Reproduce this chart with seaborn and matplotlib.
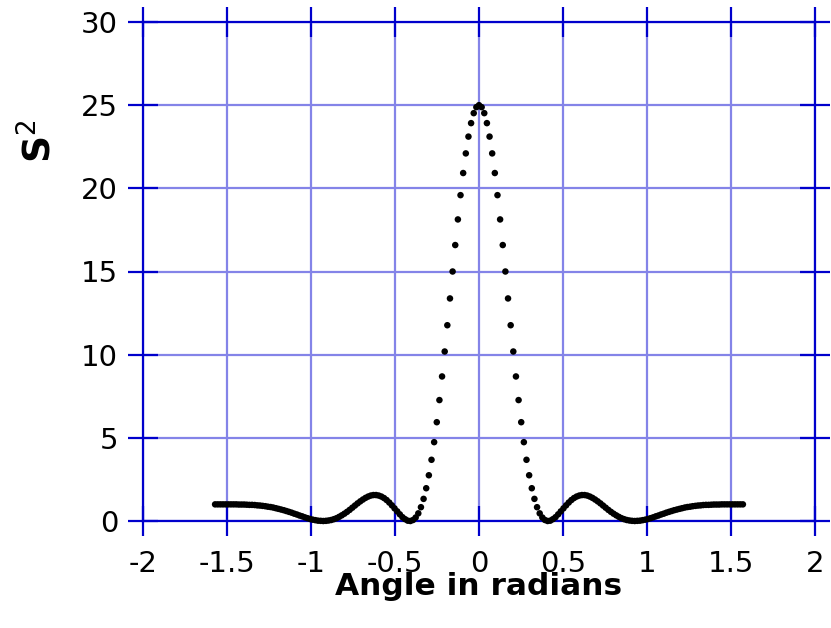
import matplotlib
matplotlib.use("Agg")
import matplotlib.pyplot as plt
import seaborn as sns
import pandas as pd

# Angle samples (radians)
angle = [
    -1.5708, -1.5551, -1.5394, -1.5237, -1.5080, -1.4923, -1.4765, -1.4608, -1.4451, -1.4294,
    -1.4137, -1.3980, -1.3823, -1.3666, -1.3509, -1.3352, -1.3195, -1.3038, -1.2881, -1.2723,
    -1.2566, -1.2409, -1.2252, -1.2095, -1.1938, -1.1781, -1.1624, -1.1467, -1.1310, -1.1153,
    -1.0996, -1.0838, -1.0681, -1.0524, -1.0367, -1.0210, -1.0053, -0.9896, -0.9739, -0.9582,
    -0.9425, -0.9268, -0.9111, -0.8954, -0.8796, -0.8639, -0.8482, -0.8325, -0.8168, -0.8011,
    -0.7854, -0.7697, -0.7540, -0.7383, -0.7226, -0.7069, -0.6912, -0.6754, -0.6597, -0.6440,
    -0.6283, -0.6126, -0.5969, -0.5812, -0.5655, -0.5498, -0.5341, -0.5184, -0.5027, -0.4869,
    -0.4712, -0.4555, -0.4398, -0.4241, -0.4084, -0.3927, -0.3770, -0.3613, -0.3456, -0.3299,
    -0.3142, -0.2985, -0.2827, -0.2670, -0.2513, -0.2356, -0.2199, -0.2042, -0.1885, -0.1728,
    -0.1571, -0.1414, -0.1257, -0.1100, -0.0942, -0.0785, -0.0628, -0.0471, -0.0314, -0.0157,
    0.0000,
    0.0157, 0.0314, 0.0471, 0.0628, 0.0785, 0.0942, 0.1100, 0.1257, 0.1414, 0.1571,
    0.1728, 0.1885, 0.2042, 0.2199, 0.2356, 0.2513, 0.2670, 0.2827, 0.2985, 0.3142,
    0.3299, 0.3456, 0.3613, 0.3770, 0.3927, 0.4084, 0.4241, 0.4398, 0.4555, 0.4712,
    0.4869, 0.5027, 0.5184, 0.5341, 0.5498, 0.5655, 0.5812, 0.5969, 0.6126, 0.6283,
    0.6440, 0.6597, 0.6754, 0.6912, 0.7069, 0.7226, 0.7383, 0.7540, 0.7697, 0.7854,
    0.8011, 0.8168, 0.8325, 0.8482, 0.8639, 0.8796, 0.8954, 0.9111, 0.9268, 0.9425,
    0.9582, 0.9739, 0.9896, 1.0053, 1.0210, 1.0367, 1.0524, 1.0681, 1.0838, 1.0996,
    1.1153, 1.1310, 1.1467, 1.1624, 1.1781, 1.1938, 1.2095, 1.2252, 1.2409, 1.2566,
    1.2723, 1.2881, 1.3038, 1.3195, 1.3352, 1.3509, 1.3666, 1.3823, 1.3980, 1.4137,
    1.4294, 1.4451, 1.4608, 1.4765, 1.4923, 1.5080, 1.5237, 1.5394, 1.5551, 1.5708,
]

# S^2 values
s_squared = [
    1.00, 1.00, 1.00, 1.00, 1.00, 1.00, 1.00, 1.00, 1.00, 0.99,
    0.99, 0.99, 0.98, 0.97, 0.97, 0.96, 0.94, 0.93, 0.91, 0.89,
    0.86, 0.84, 0.81, 0.77, 0.73, 0.69, 0.65, 0.60, 0.55, 0.50,
    0.44, 0.39, 0.33, 0.28, 0.22, 0.17, 0.12, 0.08, 0.05, 0.02,
    0.01, 0.00, 0.01, 0.03, 0.06, 0.11, 0.17, 0.25, 0.34, 0.44,
    0.55, 0.67, 0.80, 0.93, 1.06, 1.18, 1.29, 1.39, 1.47, 1.53,
    1.56, 1.56, 1.53, 1.47, 1.38, 1.26, 1.11, 0.94, 0.76, 0.58,
    0.40, 0.23, 0.11, 0.02, 0.00, 0.06, 0.21, 0.46, 0.83, 1.33,
    1.97, 2.75, 3.68, 4.74, 5.94, 7.27, 8.69, 10.19, 11.77, 13.38,
    15.00, 16.59, 18.13, 19.59, 20.92, 22.10, 23.11, 23.92, 24.52, 24.88,
    25.00,
    24.88, 24.52, 23.92, 23.11, 22.10, 20.92, 19.59, 18.13, 16.59, 15.00,
    13.38, 11.77, 10.19, 8.69, 7.27, 5.94, 4.74, 3.68, 2.75, 1.97,
    1.33, 0.83, 0.46, 0.21, 0.06, 0.00, 0.02, 0.11, 0.23, 0.40,
    0.58, 0.76, 0.94, 1.11, 1.26, 1.38, 1.47, 1.53, 1.56, 1.56,
    1.53, 1.47, 1.39, 1.29, 1.18, 1.06, 0.93, 0.80, 0.67, 0.55,
    0.44, 0.34, 0.25, 0.17, 0.11, 0.06, 0.03, 0.01, 0.00, 0.01,
    0.02, 0.05, 0.08, 0.12, 0.17, 0.22, 0.28, 0.33, 0.39, 0.44,
    0.50, 0.55, 0.60, 0.65, 0.69, 0.73, 0.77, 0.81, 0.84, 0.86,
    0.89, 0.91, 0.93, 0.94, 0.96, 0.97, 0.97, 0.98, 0.99, 0.99,
    0.99, 1.00, 1.00, 1.00, 1.00, 1.00, 1.00, 1.00, 1.00, 1.00,
]

x_ticks = [-2, -1.5, -1, -0.5, 0, 0.5, 1, 1.5, 2]
x_tick_labels = ["-2", "-1.5", "-1", "-0.5", "0", "0.5", "1", "1.5", "2"]
y_ticks = [0, 5, 10, 15, 20, 25, 30]
y_tick_labels = ["0", "5", "10", "15", "20", "25", "30"]

df = pd.DataFrame({"angle": angle, "s2": s_squared})

sns.set_theme(style="white")
plt.rcParams["font.family"] = ["DejaVu Sans"]
plt.rcParams["mathtext.fontset"] = "dejavusans"

AXIS_BLUE = "#0000CC"
GRID_BLUE = "#8484E8"

fig = plt.figure(figsize=(8.31, 6.28), dpi=100)
ax = fig.add_axes([143 / 831, 107 / 628, 672 / 831, 499 / 628])

ax.grid(True, color=GRID_BLUE, linewidth=1.6, zorder=0)
ax.set_axisbelow(True)

sns.scatterplot(data=df, x="angle", y="s2", ax=ax, color="black", s=22,
                edgecolor="none", linewidth=0, zorder=4, clip_on=False, legend=False)

ax.set_xlim(-2, 2)
ax.set_ylim(0, 30)
ax.set_xticks(x_ticks)
ax.set_xticklabels(x_tick_labels)
ax.set_yticks(y_ticks)
ax.set_yticklabels(y_tick_labels)

for sp in ax.spines.values():
    sp.set_visible(True)
    sp.set_color(AXIS_BLUE)
    sp.set_linewidth(1.6)
    sp.set_zorder(3)

ax.tick_params(axis="both", which="major", direction="inout", length=22, width=1.6,
               color=AXIS_BLUE, bottom=True, left=True, top=True, right=True,
               labelbottom=True, labelleft=True, labeltop=False, labelright=False,
               labelsize=21, labelcolor="black")
ax.tick_params(axis="x", pad=10)
ax.tick_params(axis="y", pad=7)

ax.set_xlabel("Angle in radians", fontsize=22.5, fontweight="bold", color="black")
ax.xaxis.set_label_coords(0.5, -0.102)
ax.set_ylabel(r"$\mathbf{S}^{2}$", fontsize=27, color="black")
ax.yaxis.set_label_coords(-0.125, 0.76)

fig.savefig("out.png", dpi=100)
